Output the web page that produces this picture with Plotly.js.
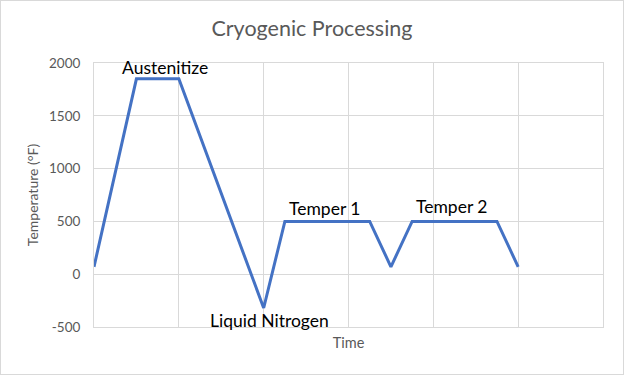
<!DOCTYPE html>
<html>
<head>
<meta charset="utf-8">
<script src="https://cdn.plot.ly/plotly-3.0.1.min.js"></script>
<style>
html,body{margin:0;padding:0;background:#fff;}
#chart{width:622px;height:373px;border:1px solid #d9d9d9;}
</style>
</head>
<body>
<div id="chart"></div>
<script>
// Data
const timeSteps = [0, 0.5, 1, 2, 2.25, 3.25, 3.5, 3.75, 4.75, 5];
const temperatureF = [70, 1850, 1850, -320, 500, 500, 70, 500, 500, 70];
const stageLabels = ["Austenitize", "Temper 1", "Temper 2", "Liquid Nitrogen"];
const yTicks = [-500, 0, 500, 1000, 1500, 2000];

const labelPos = [
  {x: 0.84, y: 1956},
  {x: 2.72, y: 619},
  {x: 4.22, y: 644},
  {x: 2.07, y: -443}
];

const font = "Lato, 'Noto Sans', sans-serif";
const grey = "#595959";

const trace = {
  x: timeSteps,
  y: temperatureF,
  type: "scatter",
  mode: "lines",
  line: {color: "#4472C4", width: 3},
  hoverinfo: "x+y"
};

const layout = {
  width: 622, height: 373,
  margin: {l: 93, r: 20, t: 62, b: 47},
  paper_bgcolor: "#fff", plot_bgcolor: "#fff",
  showlegend: false,
  font: {family: font, color: grey, size: 12},
  title: {
    text: "Cryogenic Processing",
    font: {family: font, size: 21.5, color: grey},
    x: 0.5, xanchor: "center",
    y: 1 - 27/373, yanchor: "middle", yref: "container"
  },
  xaxis: {
    range: [0, 6], dtick: 1, tick0: 0,
    showticklabels: false, ticks: "",
    showgrid: true, gridcolor: "#d9d9d9", gridwidth: 1,
    zeroline: false,
    showline: true, linecolor: "#d9d9d9", mirror: true,
    fixedrange: true,
    title: {text: "Time", font: {family: font, size: 14.5, color: grey}, standoff: 10}
  },
  yaxis: {
    range: [-500, 2000],
    tickvals: yTicks,
    ticktext: yTicks.map(String),
    ticks: "outside", ticklen: 10, tickcolor: "rgba(0,0,0,0)",
    tickfont: {family: font, size: 13.5, color: grey},
    showgrid: true, gridcolor: "#d9d9d9", gridwidth: 1,
    zeroline: false,
    showline: true, linecolor: "#d9d9d9", mirror: true,
    fixedrange: true,
    title: {text: "Temperature (°F)", font: {family: font, size: 14, color: grey}, standoff: 7}
  },
  annotations: stageLabels.map((t, i) => ({
    text: t, x: labelPos[i].x, y: labelPos[i].y,
    xref: "x", yref: "y", showarrow: false,
    xanchor: "center", yanchor: "middle",
    font: {family: font, size: 17.5, color: "#000"}
  }))
};

Plotly.newPlot("chart", [trace], layout, {displayModeBar: false, staticPlot: true});
</script>
</body>
</html>
